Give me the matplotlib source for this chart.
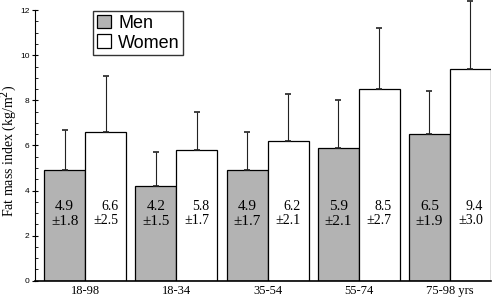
import numpy as np
import matplotlib.pyplot as plt
from matplotlib.ticker import MultipleLocator

groups = ['18-98', '18-34', '35-54', '55-74', '75-98 yrs']
men_mean = [4.9, 4.2, 4.9, 5.9, 6.5]
men_sd = [1.8, 1.5, 1.7, 2.1, 1.9]
women_mean = [6.6, 5.8, 6.2, 8.5, 9.4]
women_sd = [2.5, 1.7, 2.1, 2.7, 3.0]

serif = 'Liberation Serif'
sans = 'Liberation Sans'

fig = plt.figure(figsize=(5, 2.99), dpi=100)
ax = fig.add_axes([0.07, 0.0612, 0.912, 0.935])

x = np.arange(len(groups))
w = 0.45
ax.bar(x - w / 2, men_mean, w, color='#b3b3b3', edgecolor='black', linewidth=0.9, label='Men')
ax.bar(x + w / 2, women_mean, w, color='white', edgecolor='black', linewidth=0.9, label='Women')

# only upper error bars
ax.errorbar(x - w / 2, men_mean, yerr=[np.zeros(5), men_sd], fmt='none', ecolor='#222222',
            elinewidth=0.8, capsize=2, capthick=1.2, clip_on=False)
ax.errorbar(x + w / 2, women_mean, yerr=[np.zeros(5), women_sd], fmt='none', ecolor='#222222',
            elinewidth=0.8, capsize=2, capthick=1.2, clip_on=False)

for i in range(len(groups)):
    ax.text(x[i] - w / 2, 2.96, f'{men_mean[i]}\n\u00b1{men_sd[i]}', ha='center', va='center',
            fontsize=11, family=serif, linespacing=1.25)
    ax.text(x[i] + w / 2, 2.98, f'{women_mean[i]}\n\u00b1{women_sd[i]}', ha='center', va='center',
            fontsize=10, family=serif, multialignment='right', linespacing=1.1)

ax.set_xlim(-0.55, 4.45)
ax.set_ylim(0, 12.4)
ax.spines['top'].set_visible(False)
ax.spines['right'].set_visible(False)
ax.spines['left'].set_bounds(0, 12)
ax.spines['left'].set_linewidth(0.8)
ax.spines['bottom'].set_linewidth(1.2)

ax.set_yticks(np.arange(0, 13, 2))
ax.yaxis.set_minor_locator(MultipleLocator(0.5))
ax.tick_params(axis='y', which='major', direction='inout', length=4, width=0.8, labelsize=6, pad=2)
ax.tick_params(axis='y', which='minor', direction='in', length=2, width=0.6)
for lbl in ax.get_yticklabels():
    lbl.set_family(sans)

ax.set_xticks(x)
ax.set_xticklabels(groups, family=serif, fontsize=9)
ax.tick_params(axis='x', length=0, pad=3)

ax.set_ylabel('Fat mass index (kg/m$^2$)', family=serif, fontsize=10)
ax.yaxis.set_label_coords(-0.034, 0.465)

leg = ax.legend(loc='upper left', bbox_to_anchor=(0.127, 0.965), prop={'family': sans, 'size': 13},
                frameon=True, fancybox=False, edgecolor='black', handlelength=0.8, handleheight=0.8,
                handletextpad=0.4, borderpad=0.2, labelspacing=0.15, borderaxespad=0.0)
leg.get_frame().set_linewidth(1.0)

fig.savefig('out.png', dpi=100)
